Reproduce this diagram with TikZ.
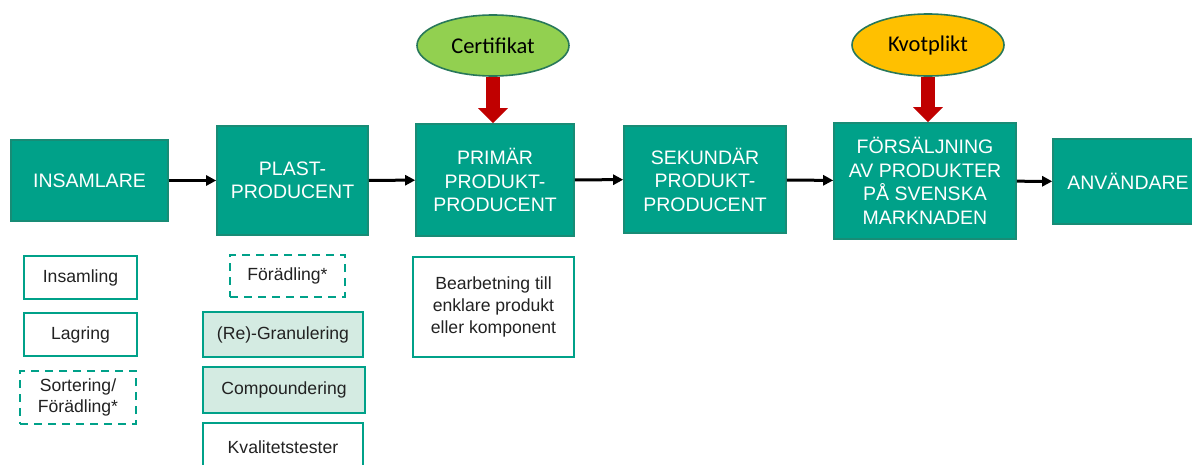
\documentclass[tikz,border=0pt]{standalone}
\usepackage{fontspec}
\setmainfont{Liberation Sans}
\newfontfamily\calib{Carlito}
\usetikzlibrary{arrows.meta,shapes.geometric}
\definecolor{teal1}{RGB}{0,161,137}
\definecolor{tealedge}{RGB}{24,140,118}
\definecolor{tealpale}{RGB}{212,235,226}
\definecolor{certgreen}{RGB}{146,208,80}
\definecolor{ellipseedge}{RGB}{40,120,90}
\definecolor{kvotgold}{RGB}{255,192,0}
\definecolor{arrowred}{RGB}{192,0,0}
\definecolor{inktext}{RGB}{34,34,34}
\tikzset{
  stage/.style={rectangle, draw=tealedge, line width=1.6pt, fill=teal1,
    text=white, align=center, inner sep=0pt,
    font=\fontsize{19.5}{23.5}\selectfont},
  task/.style={rectangle, draw=teal1, line width=2.4pt, fill=white,
    text=inktext, align=center, inner sep=0pt,
    font=\fontsize{17.6}{21.7}\selectfont},
  taskopt/.style={task, dash pattern=on 8pt off 6pt},
  taskcore/.style={task, fill=tealpale},
  badge/.style={ellipse, draw=ellipseedge, line width=1.6pt, inner sep=0pt,
    font=\calib\fontsize{22.5}{26}\selectfont, text=black},
  flow/.style={draw=black, line width=3pt, -{Triangle[length=10pt,width=10pt]}},
  control/.style={draw=arrowred, line width=14pt, -{Triangle[length=15pt,width=29pt]}}
}
\begin{document}
\begin{tikzpicture}[x=1pt, y=-1pt]
\useasboundingbox (0,0) rectangle (1192,464);
\begin{scope}
\clip (0,0) rectangle (1192,464);
% main chain
\node[stage, minimum width=157pt, minimum height=81pt] (ins) at (89.5,180.5) {INSAMLARE};
\node[stage, minimum width=151pt, minimum height=109pt] (plast) at (292.5,180.5) {PLAST-\\PRODUCENT};
\node[stage, minimum width=158pt, minimum height=112pt] (prim) at (495,180) {PRIMÄR\\PRODUKT-\\PRODUCENT};
\node[stage, minimum width=162pt, minimum height=107pt] (sek) at (705,179.5) {SEKUNDÄR\\PRODUKT-\\PRODUCENT};
\node[stage, minimum width=182pt, minimum height=116pt] (fors) at (925,181) {FÖRSÄLJNING\\AV PRODUKTER\\PÅ SVENSKA\\MARKNADEN};
\node[stage, minimum width=150pt, minimum height=85pt] (anv) at (1128,181.5) {ANVÄNDARE};

\draw[flow] (ins) -- (plast);
\draw[flow] (plast) -- (prim);
\draw[flow] (prim) -- (sek);
\draw[flow] (sek) -- (fors);
\draw[flow] (fors) -- (anv);

% requirements
\node[badge, fill=certgreen, minimum width=152pt, minimum height=61pt] (cert) at (493,45.5) {Certifikat};
\node[badge, fill=kvotgold, minimum width=152pt, minimum height=62pt] (kvot) at (928,45) {Kvotplikt};
\draw[control] (cert.south) -- (cert.south |- prim.north);
\draw[control] (kvot.south) -- (kvot.south |- fors.north);

% activities
\node[task, minimum width=113pt, minimum height=43pt] (insaml) at (80.5,277.5) {Insamling};
\node[task, minimum width=113pt, minimum height=43pt] (lagr) at (80.5,334.5) {Lagring};
\node[taskopt, minimum width=116pt, minimum height=53pt] (sort) at (78,397.5) {Sortering/\\Förädling*};

\node[taskopt, minimum width=115pt, minimum height=42pt] (forad) at (287.5,276) {Förädling*};
\node[taskcore, minimum width=160pt, minimum height=45pt] (regran) at (283,334.5) {(Re)-Granulering};
\node[taskcore, minimum width=162pt, minimum height=46pt] (comp) at (284,390) {Compoundering};
\node[task, minimum width=160pt, minimum height=48pt] (kval) at (283,447) {Kvalitetstester};

\node[task, minimum width=161pt, minimum height=100pt] (bearb) at (493.5,307) {Bearbetning till\\enklare produkt\\eller komponent};
\end{scope}
\end{tikzpicture}
\end{document}
